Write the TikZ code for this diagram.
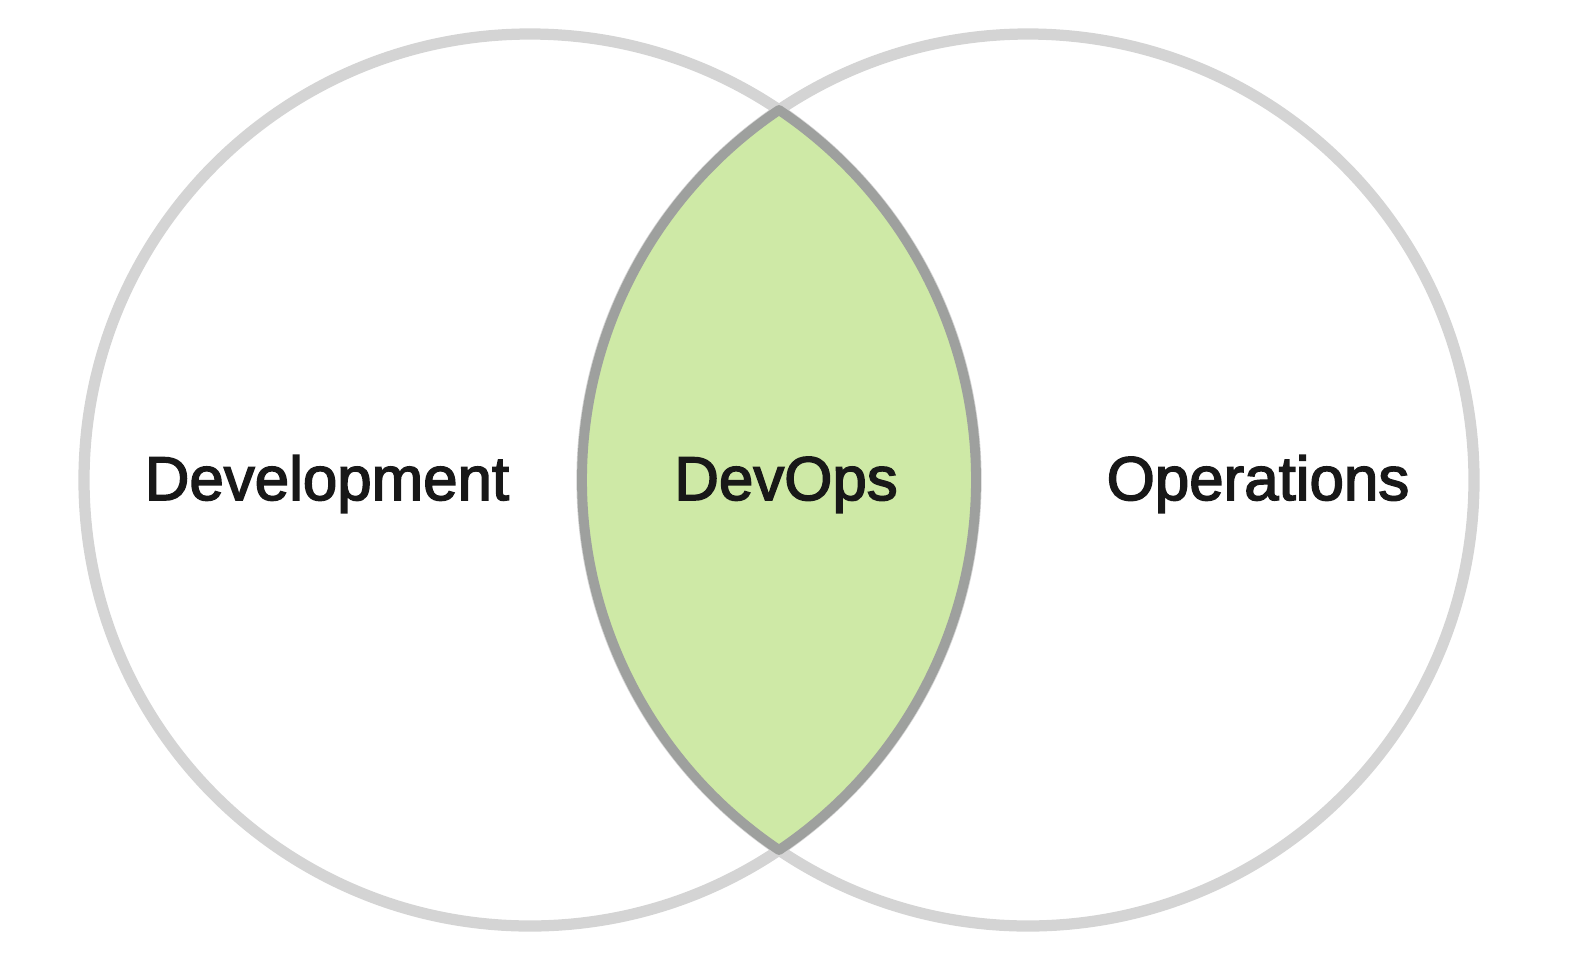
\documentclass[tikz,border=0pt]{standalone}
\usepackage{fontspec}
\usetikzlibrary{calc}
\newfontfamily\vennfont[FakeBold=2.5]{Liberation Sans}
\definecolor{ringgray}{RGB}{212,212,212}
\definecolor{lensgray}{RGB}{158,160,158}
\definecolor{lensgreen}{RGB}{206,233,166}
\definecolor{labelblack}{RGB}{24,24,24}
\tikzset{
  ring/.style={draw=ringgray,line width=3.2pt},
  lens/.style={draw=lensgray,fill=lensgreen,line width=2.8pt,line join=round},
  venlabel/.style={anchor=base,text=labelblack,font=\vennfont\fontsize{17.6pt}{20pt}\selectfont}
}
\begin{document}
\begin{tikzpicture}
\useasboundingbox (0,0) rectangle (15.88,9.60);
%\draw[step=0.5cm,gray,very thin] (0,0) grid (15.88,9.60); %background grid

\coordinate (devC) at (5.30,4.80);
\coordinate (opsC) at (10.28,4.80);

\draw[ring] (devC) circle (4.46); %development
\draw[ring] (opsC) circle (4.46); %operations

% overlap, arcs meet at 56.06 deg
\path[lens] ($(devC)+(56.06:4.46)$) arc[start angle=56.06,end angle=-56.06,radius=4.46]
  arc[start angle=236.06,end angle=123.94,radius=4.46] -- cycle;

\node[venlabel] (dev) at (3.27,4.60) {Development};
\node[venlabel] (devops) at (7.86,4.60) {DevOps};
\node[venlabel] (ops) at (12.58,4.60) {Operations};

\end{tikzpicture}
\end{document}
